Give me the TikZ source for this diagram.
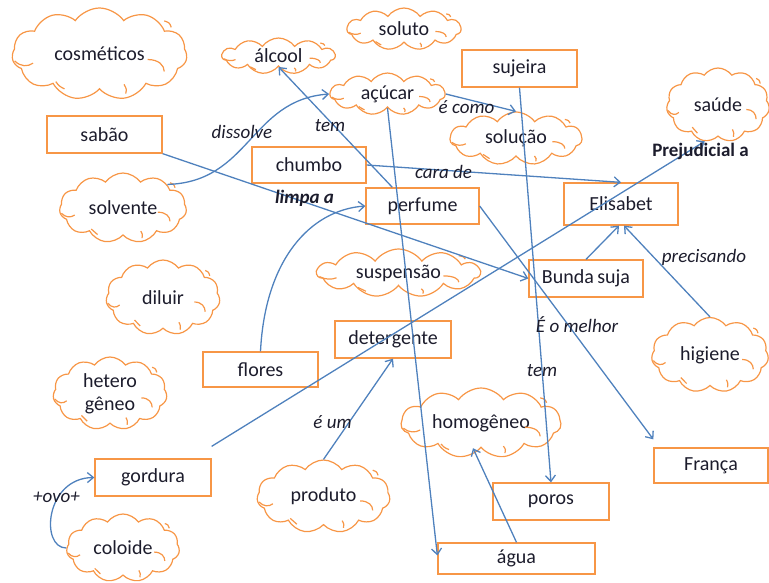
\documentclass[tikz,border=0pt]{standalone}
\usepackage{fontspec}
\setmainfont{Carlito}
\usetikzlibrary{shapes.symbols,arrows.meta}
\definecolor{borange}{HTML}{F79646}
\definecolor{lblue}{HTML}{4F81BD}
\definecolor{txt}{HTML}{1C1C2C}
\newcommand\cldin[3]{%
  \begin{scope}[shift={(#1.center)},x=#2pt,y=-#3pt]
    \draw[inarc] (-0.97,0.15) .. controls (-0.9,0.28) and (-0.82,0.28) .. (-0.76,0.2);
    \draw[inarc] (-0.5,0.6) .. controls (-0.46,0.7) .. (-0.4,0.76);
    \draw[inarc] (0.28,0.66) .. controls (0.31,0.76) .. (0.3,0.86);
    \draw[inarc] (0.55,0.12) .. controls (0.68,0.12) and (0.74,0.25) .. (0.74,0.38);
    \draw[inarc] (0.74,-0.72) .. controls (0.8,-0.68) .. (0.82,-0.58);
  \end{scope}}
\begin{document}
\begin{tikzpicture}[x=1pt,y=-1pt,
  every node/.style={font=\fontsize{20}{23}\selectfont, text=txt},
  box/.style={draw=borange, line width=1.3pt, rectangle, inner sep=0pt, minimum height=37pt, minimum width=115pt},
  puff/.style={draw=borange, line width=1.2pt, cloud, cloud puffs=11, cloud puff arc=110, cloud ignores aspect, inner sep=0pt, align=center},
  inarc/.style={draw=borange, line width=1.2pt},
  conn/.style={draw=lblue, line width=1.3pt, -{Straight Barb[length=6pt,width=10pt]}},
  lab/.style={font=\fontsize{19}{22}\selectfont\itshape, inner sep=0pt},
]
\useasboundingbox (0,0) rectangle (769,582);

% boxes
\node[box] (sabao) at (104.5,134.5) {sabão};
\node[box, minimum width=114pt, minimum height=36pt] (chumbo) at (309,165) {chumbo};
\node[box] (sujeira) at (519.5,68.5) {sujeira};
\node[box, minimum width=113pt, minimum height=36pt] (perfume) at (422.5,206) {perfume};
\node[box, minimum width=114pt, minimum height=42pt] (elis) at (621,204) {Elisabet};
\node[box, minimum width=114pt] (bunda) at (586,278.5) {Bunda\,suja};
\node[box, minimum width=116pt] (deterg) at (393,339.5) {detergente};
\node[box, minimum height=35pt] (flores) at (260.5,369.5) {flores};
\node[box, minimum width=116pt] (gordura) at (153,477.5) {gordura};
\node[box, minimum width=114pt, minimum height=35pt] (franca) at (711,465.5) {França};
\node[box, minimum width=116pt] (poros) at (551,501.5) {poros};
\node[box, minimum width=157pt, minimum height=31pt] (agua) at (516.5,558.5) {água};

% clouds
\node[puff, minimum width=175pt, minimum height=92pt] (cosm) at (99.5,54) {cosméticos};
\node[puff, minimum width=113pt, minimum height=36pt] (alcool) at (278.5,56) {álcool};
\node[puff, minimum width=114pt, minimum height=42pt] (soluto) at (404,29) {soluto};
\node[puff, minimum width=115pt, minimum height=42pt] (acucar) at (387.5,94) {açúcar};
\node[puff, minimum width=132pt, minimum height=53pt] (solucao) at (516,138.5) {solução};
\node[puff, minimum width=103pt, minimum height=74pt] (saude) at (718,105) {saúde};
\node[puff, minimum width=127pt, minimum height=70pt] (solvente) at (123,208) {solvente};
\node[puff, minimum width=114pt, minimum height=75pt] (diluir) at (163,297.5) {diluir};
\node[puff, minimum width=114pt, minimum height=73pt] (hetero) at (110,393.5) {hetero\\gêneo};
\node[puff, minimum width=163pt, minimum height=48pt] (suspensao) at (398.5,273) {suspensão};
\node[puff, minimum width=117pt, minimum height=75pt] (higiene) at (710,355) {higiene};
\node[puff, minimum width=160pt, minimum height=70pt] (homog) at (481,423) {homogêneo};
\node[puff, minimum width=133pt, minimum height=73pt] (produto) at (323.5,496.5) {produto};
\node[puff, minimum width=113pt, minimum height=68pt] (coloide) at (123,548) {coloide};

% inner cloud arcs
\cldin{cosm}{87.5}{46}
\cldin{alcool}{56.5}{18}
\cldin{soluto}{57}{21}
\cldin{acucar}{57.5}{21}
\cldin{solucao}{66}{26.5}
\cldin{saude}{51.5}{37}
\cldin{solvente}{63.5}{35}
\cldin{diluir}{57}{37.5}
\cldin{hetero}{57}{36.5}
\cldin{suspensao}{81.5}{24}
\cldin{higiene}{58.5}{37.5}
\cldin{homog}{80}{35}
\cldin{produto}{66.5}{36.5}
\cldin{coloide}{56.5}{34}

% connectors
\draw[conn] (solvente.28) .. controls (250,182) and (250,100) .. (acucar.west);
\draw[conn] (sabao.south east) -- (bunda.west);
\draw[conn] (chumbo.east) -- (elis.north);
\draw[conn] ([xshift=27pt]perfume.north west) -- (alcool.south);
\draw[conn] (acucar.east) -- (solucao.north);
\draw[conn] (acucar.south) -- ([yshift=3pt]agua.west);
\draw[conn] (sujeira.south) -- (poros.north);
\draw[conn] (bunda.north) -- ([xshift=-2pt]elis.south);
\draw[conn] (higiene.north) -- ([xshift=3pt]elis.south);
\draw[conn] ([yshift=12pt]gordura.north east) -- (saude.250);
\draw[conn] (perfume.east) -- ([yshift=8pt]franca.north west);
\draw[conn] (flores.north) .. controls (265,260) and (310,210) .. (perfume.west);
\draw[conn] (produto.north) -- (deterg.south);
\draw[conn] (agua.north) -- ([xshift=-8pt]homog.south);
\draw[conn] (coloide.west) .. controls (40,548) and (45,478) .. (gordura.west);

% labels
\node[lab] (l1) at (242,132) {dissolve};
\node[lab] (l2) at (330,126) {tem};
\node[lab] (l3) at (466.5,107) {é como};
\node[lab] (l4) at (443.5,172) {cara de};
\node[lab, font=\fontsize{19}{22}\selectfont\bfseries\itshape] (l5) at (304.5,198) {limpa a};
\node[lab, font=\fontsize{19}{22}\selectfont\bfseries] (l6) at (700.5,151) {Prejudicial a};
\node[lab] (l7) at (704,257) {precisando};
\node[lab] (l8) at (577,325) {É o melhor};
\node[lab] (l9) at (542,371) {tem};
\node[lab] (l10) at (332.5,422) {é um};
\node[lab] (l11) at (56.5,497) {+ovo+};
\end{tikzpicture}
\end{document}
